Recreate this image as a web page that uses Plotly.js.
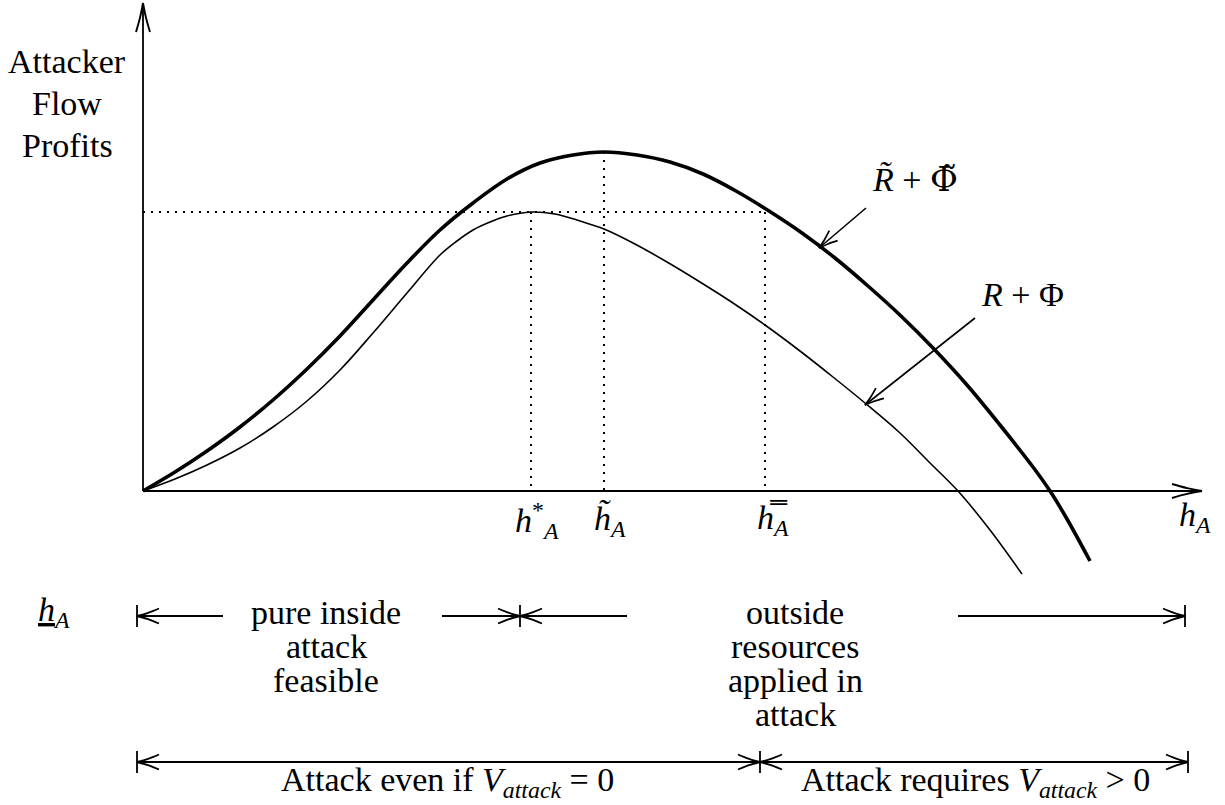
<!DOCTYPE html>
<html><head><meta charset="utf-8">
<script src="https://cdn.plot.ly/plotly-3.0.1.min.js"></script>
<style>
html,body{margin:0;padding:0;background:#fff}
#chart .annotation-text{font-family:"Liberation Serif","Times New Roman",serif !important;}
</style>
</head><body><div id="chart" style="width:1225px;height:805px"></div>
<script>
// Schematic units: h_A along x, flow profits along y, origin at the axes corner.
const THICK_X = [0,32,64,97,130,164,197,230,264,297,330,364,397,430,461,494,527,560,593,626,659,692,725,758,791,824,857,890,907,924,947];
const THICK_Y = [0,19,40,64,91,122,155,191,228,261,288,312,328,336,339,336,329,317,300,280,258,233,205,175,142,106,66,24,0,-28,-70];
const THIN_X  = [0,32,64,97,130,164,197,230,264,297,314,330,347,364,388,412,437,461,490,524,557,590,622,657,690,722,757,786,815,847,879];
const THIN_Y  = [0,12,26,43,64,90,121,158,198,236,250,261,269,275,279,277,270,262,248,229,209,188,166,140,114,88,58,29,0,-39,-83];

const H_STAR = 388, H_TILDE = 461, H_BAR = 622;      // marked h_A values
const PEAK_THIN = 279, PEAK_THICK = 339;              // profit levels of the dotted guides
const X_AXIS_END = 1059, Y_AXIS_END = 488;

const ROW1_Y = -125, ROW2_Y = -271;
const ROW1_ARROWS = [[80,-6],[299,377],[484,377],[815,1042]];        // [tail, head]
const ROW1_TICKS = [-6,377,1042];
const ROW2_ARROWS = [[617,-6],[-6,617],[1045,617],[617,1045]];
const ROW2_TICKS = [-6,617,1045];

const POINTERS = [[723,283,676,243],[832,173,722,86]];               // tail x,y -> tip x,y
const CURVE_LABELS = ['<i>R̃</i> + <span style="font-family:DejaVu Serif">Φ̃</span>', '<i>R</i> + Φ'];
const CURVE_LABEL_POS = [[772,312],[879,197]];

const ATTACKER_LINES = ['Attacker','Flow','Profits'];
const INSIDE_LINES = ['pure inside','attack','feasible'];
const OUTSIDE_LINES = ['outside','resources','applied in','attack'];
const ROW2_LABELS = ['Attack even if <i>V</i><sub><i>attack</i></sub> = 0', 'Attack requires <i>V</i><sub><i>attack</i></sub> > 0'];
const ROW2_LABEL_X = [304, 832];
const H_LABELS = ['<i>h</i><sup>*</sup><sub><i>A</i></sub>', '<i>h̃</i><sub><i>A</i></sub>', '<i>h̿</i><sub><i>A</i></sub>'];

const traces = [];
function seg(xs, ys, width, dash, shape) {
  traces.push({type:'scatter', mode:'lines', x:xs, y:ys, hoverinfo:'skip',
    line:{color:'#000', width:width, dash:dash||'solid', shape:shape||'linear', smoothing:1}});
}
function headPts(fx, fy, tx, ty, L, W, out) {
  const dx = tx-fx, dy = ty-fy, len = Math.hypot(dx,dy);
  const ux = dx/len, uy = dy/len, nx = -uy, ny = ux;
  for (const s of [1,-1]) {
    out.x.push(tx-ux*L+s*nx*W, tx-ux*L*0.5+s*nx*W*0.42, tx, null);
    out.y.push(ty-uy*L+s*ny*W, ty-uy*L*0.5+s*ny*W*0.42, ty, null);
  }
}

// curves
seg(THICK_X, THICK_Y, 3.6, 'solid', 'spline');
seg(THIN_X, THIN_Y, 1.6, 'solid', 'spline');

// dotted guides
const DOT = '2px,6px';
seg([0,H_BAR],[PEAK_THIN,PEAK_THIN],2,DOT);
seg([H_STAR,H_STAR],[PEAK_THIN,0],2,DOT);
seg([H_TILDE,H_TILDE],[PEAK_THICK,0],2,DOT);
seg([H_BAR,H_BAR],[PEAK_THIN,0],2,DOT);

// axes
seg([0,0],[0,Y_AXIS_END],1.8);
seg([0,X_AXIS_END],[0,0],1.8);
const axHeads = {x:[],y:[]};
headPts(0,0,0,Y_AXIS_END,29,7,axHeads);
headPts(0,0,X_AXIS_END,0,30,7,axHeads);
seg(axHeads.x, axHeads.y, 1.9, 'solid', 'spline');

// pointer arrows
const pHeads = {x:[],y:[]};
POINTERS.forEach(p => { seg([p[0],p[2]],[p[1],p[3]],1.6); headPts(p[0],p[1],p[2],p[3],19,6.5,pHeads); });
seg(pHeads.x, pHeads.y, 1.7, 'solid', 'spline');

// bottom range arrows
function row(arrows, ticks, yv) {
  const h = {x:[],y:[]}, sx = [], sy = [];
  arrows.forEach(a => { sx.push(a[0],a[1],null); sy.push(yv,yv,null); headPts(a[0],yv,a[1],yv,22,7.5,h); });
  ticks.forEach(t => { sx.push(t,t,null); sy.push(yv-11,yv+11,null); });
  seg(sx, sy, 1.8);
  seg(h.x, h.y, 1.9, 'solid', 'spline');
}
row(ROW1_ARROWS, ROW1_TICKS, ROW1_Y);
row(ROW2_ARROWS, ROW2_TICKS, ROW2_Y);

const ann = [];
function txt(t, x, y) {
  ann.push({text:t, x:x, y:y, xref:'x', yref:'y', showarrow:false, xanchor:'center', yanchor:'middle',
    font:{family:'Liberation Serif', size:34, color:'#000'}});
}
ATTACKER_LINES.forEach((t,i) => txt(t, -76, 430 - i*42));
INSIDE_LINES.forEach((t,i) => txt(t, 183, -121 - i*34));
OUTSIDE_LINES.forEach((t,i) => txt(t, 652, -121 - i*34));
ROW2_LABELS.forEach((t,i) => txt(t, ROW2_LABEL_X[i], -291));
CURVE_LABELS.forEach((t,i) => txt(t, CURVE_LABEL_POS[i][0], CURVE_LABEL_POS[i][1]));
[H_STAR, H_TILDE, H_BAR].forEach((h,i) => txt(H_LABELS[i], h + [6,6,8][i], -29));
txt('<i>h</i><sub><i>A</i></sub>', 1052, -26);
txt('<u><i>h</i></u><sub><i>A</i></sub>', -89, -121);

Plotly.newPlot('chart', traces, {
  width:1225, height:805, margin:{l:0,r:0,t:0,b:0}, showlegend:false,
  font:{family:'Liberation Serif', color:'#000'},
  paper_bgcolor:'#fff', plot_bgcolor:'#fff',
  xaxis:{range:[-143,1082], visible:false, fixedrange:true},
  yaxis:{range:[-314,491], visible:false, fixedrange:true},
  annotations:ann
}, {staticPlot:true});
</script></body></html>
